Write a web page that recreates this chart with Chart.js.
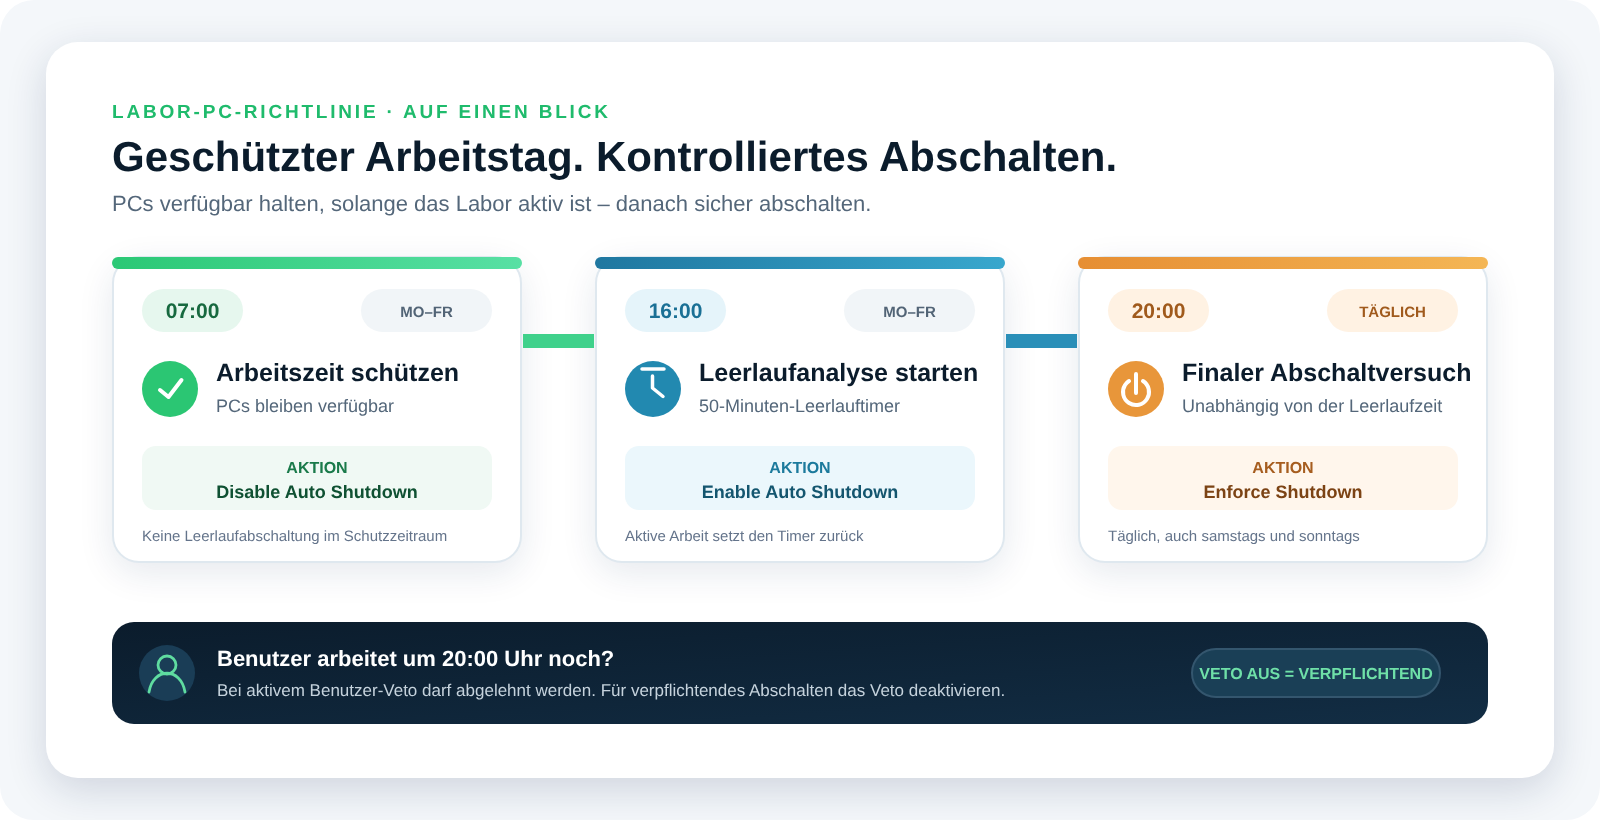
<!doctype html>
<html>
  <head>
    <meta charset="utf-8">
    <title>Labor-PC-Richtlinie</title>
    <script src="https://cdn.jsdelivr.net/npm/chart.js@4/dist/chart.umd.min.js"></script>
    <style>
    html, body { margin: 0; padding: 0; background: #ffffff; }
    canvas { display: block; }
    </style>
  </head>

  <body>
    <canvas id="canvas" width="1600" height="820"></canvas>

    <script>
      // texts of the three phases
      const times = ['07:00', '16:00', '20:00'];
      const days = ['MO–FR', 'MO–FR', 'TÄGLICH'];
      const titles = ['Arbeitszeit schützen', 'Leerlaufanalyse starten', 'Finaler Abschaltversuch'];
      const subtitles = ['PCs bleiben verfügbar', '50-Minuten-Leerlauftimer', 'Unabhängig von der Leerlaufzeit'];
      const actions = ['Disable Auto Shutdown', 'Enable Auto Shutdown', 'Enforce Shutdown'];
      const notes = ['Keine Leerlaufabschaltung im Schutzzeitraum', 'Aktive Arbeit setzt den Timer zurück', 'Täglich, auch samstags und sonntags'];

      const eyebrow = 'LABOR-PC-RICHTLINIE · AUF EINEN BLICK';
      const headline = 'Geschützter Arbeitstag. Kontrolliertes Abschalten.';
      const subline = 'PCs verfügbar halten, solange das Labor aktiv ist – danach sicher abschalten.';
      const actionLabel = 'AKTION';
      const bannerTitle = 'Benutzer arbeitet um 20:00 Uhr noch?';
      const bannerText = 'Bei aktivem Benutzer-Veto darf abgelehnt werden. Für verpflichtendes Abschalten das Veto deaktivieren.';
      const bannerPill = 'VETO AUS = VERPFLICHTEND';

      // layout
      const cardLeft = [112, 595, 1078];
      const cardW = 410, cardTop = 257, cardBottom = 562;
      const font = '"Liberation Sans", Arial, sans-serif';

      const theme = [
        { from: '#2bc875', to: '#58e0a4', link: '#3fd18b', icon: '#2bc673', pill: '#e6f7ee', time: '#17693f', dayBg: '#f1f5f8', day: '#526476', box: '#f0f9f4', label: '#1a7a4a', action: '#0f5132' },
        { from: '#1f77a0', to: '#38a7cd', link: '#2a8fb8', icon: '#2289b0', pill: '#e5f4fa', time: '#1a7095', dayBg: '#f1f5f8', day: '#526476', box: '#ebf7fc', label: '#1c7a9c', action: '#14566f' },
        { from: '#e68e33', to: '#f4b655', link: '#e68e33', icon: '#e8963a', pill: '#fff2e3', time: '#a05a1c', dayBg: '#fff2e3', day: '#a05a1c', box: '#fff6ec', label: '#a65d1f', action: '#7c4314' }
      ];

      function rr(ctx, x, y, w, h, r, fill, stroke, lw) {
        ctx.beginPath();
        ctx.roundRect(x, y, w, h, r);
        if (fill) { ctx.fillStyle = fill; ctx.fill(); }
        if (stroke) { ctx.strokeStyle = stroke; ctx.lineWidth = lw; ctx.stroke(); }
      }

      function text(ctx, str, x, y, f, color, align, spacing) {
        ctx.font = f + ' ' + font;
        ctx.fillStyle = color;
        ctx.textAlign = align || 'left';
        ctx.textBaseline = 'alphabetic';
        ctx.textRendering = 'geometricPrecision';
        ctx.letterSpacing = spacing || '0px';
        ctx.fillText(str, x, y);
        ctx.letterSpacing = '0px';
      }

      // page, cards, pills: everything behind the marks
      const panels = {
        id: 'panels',
        beforeDatasetsDraw(chart) {
          const ctx = chart.ctx;
          ctx.save();
          rr(ctx, 0, 0, 1600, 820, 34, '#f4f7fa');

          ctx.save();
          ctx.shadowColor = 'rgba(20,40,80,0.16)';
          ctx.shadowBlur = 40;
          ctx.shadowOffsetY = 12;
          rr(ctx, 46, 42, 1508, 736, 32, '#ffffff');
          ctx.restore();

          cardLeft.forEach((x, i) => {
            const t = theme[i];
            ctx.save();
            ctx.shadowColor = 'rgba(20,50,90,0.11)';
            ctx.shadowBlur = 36;
            ctx.shadowOffsetY = 10;
            rr(ctx, x + 1, cardTop, cardW - 2, cardBottom - cardTop, 26, '#ffffff');
            ctx.restore();
            rr(ctx, x + 1, cardTop, cardW - 2, cardBottom - cardTop, 26, null, '#dfe8ef', 2);
            rr(ctx, x + 30, 289, 101, 43, 21.5, t.pill);
            rr(ctx, x + 249, 289, 131, 43, 21.5, t.dayBg);
            rr(ctx, x + 30, 446, 350, 64, 14, t.box);
          });

          // banner gradient runs corner to corner of its own box
          ctx.beginPath();
          ctx.roundRect(112, 622, 1376, 102, 22);
          ctx.save();
          ctx.translate(112, 622);
          ctx.scale(1376, 102);
          const g = ctx.createLinearGradient(0, 0, 1, 1);
          g.addColorStop(0, '#0b1c2c');
          g.addColorStop(1, '#122d44');
          ctx.fillStyle = g;
          ctx.fill();
          ctx.restore();
          rr(ctx, 1192, 649, 248, 48, 24, '#1a3f56', '#34566e', 2);
          ctx.restore();
        }
      };

      // icon glyphs and all texts, on top of the marks
      const labels = {
        id: 'labels',
        afterDatasetsDraw(chart) {
          const ctx = chart.ctx;
          ctx.save();
          text(ctx, eyebrow, 112, 118, 'bold 19px', '#1fbb6c', 'left', '2.8px');
          text(ctx, headline, 112, 171, 'bold 42px', '#0b1c2c');
          text(ctx, subline, 112, 211, '22px', '#54677a');

          cardLeft.forEach((x, i) => {
            const t = theme[i];
            text(ctx, times[i], x + 80.5, 318, 'bold 21px', t.time, 'center');
            text(ctx, days[i], x + 314.5, 317, 'bold 15px', t.day, 'center');
            text(ctx, titles[i], x + 104, 381, 'bold 25px', '#0b1c2c');
            text(ctx, subtitles[i], x + 104, 412, '18px', '#54677a');
            text(ctx, actionLabel, x + 205, 473, 'bold 16px', t.label, 'center');
            text(ctx, actions[i], x + 205, 498, 'bold 18px', t.action, 'center');
            text(ctx, notes[i], x + 30, 541, '15px', '#64748b');
          });

          text(ctx, bannerTitle, 217, 666, 'bold 22px', '#ffffff');
          text(ctx, bannerText, 217, 696, '17px', '#c5d2dc');
          text(ctx, bannerPill, 1316, 679, 'bold 16px', '#6fe0a8', 'center');

          ctx.lineCap = 'round';
          ctx.lineJoin = 'round';
          ctx.strokeStyle = '#ffffff';
          ctx.lineWidth = 4;

          // check
          ctx.beginPath();
          ctx.moveTo(160, 390);
          ctx.lineTo(168.5, 397);
          ctx.lineTo(181.5, 380);
          ctx.stroke();

          // clock
          ctx.lineWidth = 3.5;
          ctx.beginPath();
          ctx.moveTo(642, 369);
          ctx.lineTo(664, 369);
          ctx.moveTo(652.5, 376);
          ctx.lineTo(652.5, 388);
          ctx.lineTo(663, 396.5);
          ctx.stroke();

          // power
          ctx.lineWidth = 4;
          ctx.beginPath();
          ctx.arc(1136, 392, 13, -Math.PI * 0.32, Math.PI * 1.32);
          ctx.moveTo(1136, 374);
          ctx.lineTo(1136, 393);
          ctx.stroke();

          // person
          ctx.strokeStyle = '#5fdca0';
          ctx.lineWidth = 2.8;
          ctx.beginPath();
          ctx.arc(167, 665, 9, 0, Math.PI * 2);
          ctx.moveTo(149, 692);
          ctx.bezierCurveTo(153, 667, 181, 667, 185, 692);
          ctx.stroke();
          ctx.restore();
        }
      };

      const accentData = cardLeft.map(x => ({ x: [x, x + cardW], y: 263 }));
      const linkData = cardLeft.slice(0, 2).map(x => ({ x: [x + cardW + 1, x + cardW + 72], y: 341 }));
      const iconData = cardLeft.map(x => ({ x: x + 58, y: 389 })).concat([{ x: 167, y: 673 }]);

      new Chart(document.getElementById('canvas').getContext('2d'), {
        type: 'bar',
        data: {
          datasets: [
            {
              label: 'Übergang',
              indexAxis: 'y',
              data: linkData,
              barThickness: 14,
              grouped: false,
              inflateAmount: 0,
              backgroundColor: linkData.map((d, i) => theme[i].link)
            },
            {
              label: 'Phase',
              indexAxis: 'y',
              data: accentData,
              barThickness: 12,
              grouped: false,
              inflateAmount: 0,
              borderRadius: 6,
              borderSkipped: false,
              backgroundColor: c => {
                const i = c.dataIndex;
                const g = c.chart.ctx.createLinearGradient(cardLeft[i], 0, cardLeft[i] + cardW, 0);
                g.addColorStop(0, theme[i].from);
                g.addColorStop(1, theme[i].to);
                return g;
              }
            },
            {
              type: 'scatter',
              label: 'Symbol',
              data: iconData,
              pointRadius: 28,
              pointHoverRadius: 28,
              pointBorderWidth: 0,
              pointBackgroundColor: theme.map(t => t.icon).concat(['#1a3d56'])
            }
          ]
        },
        options: {
          responsive: false,
          animation: false,
          events: [],
          layout: { padding: 0, autoPadding: false },
          plugins: { legend: { display: false }, tooltip: { enabled: false } },
          scales: {
            x: { type: 'linear', display: false, min: 0, max: 1600, offset: false },
            y: { type: 'linear', display: false, min: 0, max: 820, reverse: true, offset: false }
          }
        },
        plugins: [panels, labels]
      });
    </script>
  </body>
</html>
